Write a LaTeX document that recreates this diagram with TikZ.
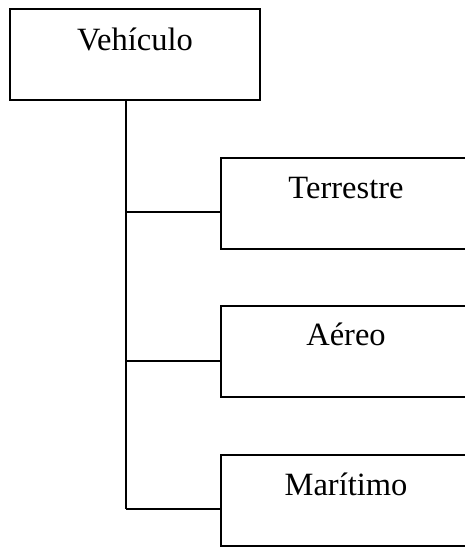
\documentclass[tikz,border=0pt]{standalone}
\usepackage{fontspec}
\setmainfont{Liberation Serif}
\begin{document}
\begin{tikzpicture}[x=1pt,y=-1pt,
  box/.style={draw=black,line width=2pt,rectangle,inner sep=0pt,
    minimum width=250pt,minimum height=91pt},
  lbl/.style={anchor=base,inner sep=0pt,font=\fontsize{32.5}{38}\selectfont},
  link/.style={draw=black,line width=2pt}]
  \path[use as bounding box,clip] (0,0) rectangle (465,550);
  % class boxes
  \node[box] (veh) at (135,54.5) {};
  \node[box] (ter) at (346,203) {};
  \node[box] (aer) at (346,351.5) {};
  \node[box] (mar) at (346,500) {};
  % names
  \node[lbl] (tveh) at (135,50) {Vehículo};
  \node[lbl] (tter) at (346,198) {Terrestre};
  \node[lbl] (taer) at (346,345) {Aéreo};
  \node[lbl] (tmar) at (346,495) {Marítimo};
  % tree connectors
  \coordinate (top) at (126,100);
  \coordinate (j1) at (126,212);
  \coordinate (j2) at (126,361);
  \coordinate (j3) at (126,509);
  \draw[link] (top) -- (j3);
  \draw[link] (j1) -- (j1 -| ter.west);
  \draw[link] (j2) -- (j2 -| aer.west);
  \draw[link] (j3) -- (j3 -| mar.west);
\end{tikzpicture}
\end{document}
